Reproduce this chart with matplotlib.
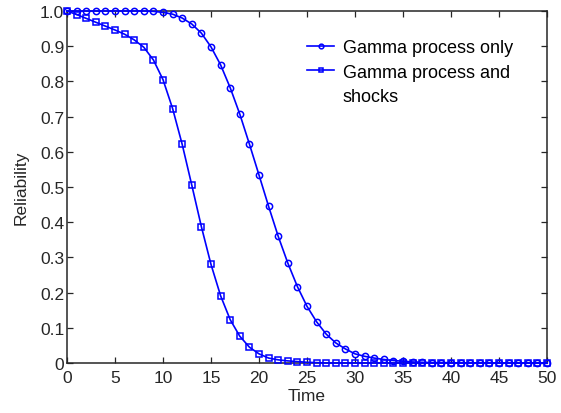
import numpy as np
import matplotlib
matplotlib.use("Agg")
import matplotlib.pyplot as plt
from matplotlib.lines import Line2D

plt.rcParams['font.family'] = ['Liberation Sans', 'DejaVu Sans']

time = np.arange(0, 51)

# reliability, gamma process only
gamma_only = [1.0, 1.0, 1.0, 1.0, 1.0, 1.0, 1.0, 1.0, 1.0, 0.999,
              0.996, 0.991, 0.980, 0.963, 0.937, 0.898, 0.847, 0.782, 0.707, 0.622,
              0.534, 0.445, 0.360, 0.284, 0.217, 0.161, 0.117, 0.082, 0.057, 0.040,
              0.026, 0.019, 0.014, 0.010, 0.007, 0.005, 0.003, 0.002, 0.001, 0.001,
              0.001, 0.0, 0.0, 0.0, 0.0, 0.0, 0.0, 0.0, 0.0, 0.0, 0.0]

# reliability, gamma process and shocks
gamma_shocks = [1.0, 0.990, 0.979, 0.968, 0.957, 0.946, 0.934, 0.918, 0.897, 0.861,
                0.805, 0.723, 0.621, 0.505, 0.387, 0.280, 0.191, 0.123, 0.076, 0.045,
                0.026, 0.014, 0.009, 0.006, 0.004, 0.002, 0.001, 0.0, 0.0, 0.0,
                0.0, 0.0, 0.0, 0.0, 0.0, 0.0, 0.0, 0.0, 0.0, 0.0,
                0.0, 0.0, 0.0, 0.0, 0.0, 0.0, 0.0, 0.0, 0.0, 0.0, 0.0]

dark = '#262626'
blue = '#0000ff'

fig = plt.figure(figsize=(5.61, 4.14), dpi=100)
ax = fig.add_axes([67 / 561, 1 - 364 / 414, 480 / 561, 352 / 414])

l1, = ax.plot(time, gamma_only, '-o', color=blue, lw=1.2, ms=4.5, mfc='none', mew=1.1,
              clip_on=False, zorder=3)
l2, = ax.plot(time, gamma_shocks, '-s', color=blue, lw=1.2, ms=3.8, mfc='none', mew=1.1,
              clip_on=False, zorder=3)

ax.set_xlim(0, 50)
ax.set_ylim(0, 1)
ax.set_xticks(np.arange(0, 51, 5))
ax.set_yticks(np.arange(0, 1.01, 0.1))
ax.set_yticklabels(['0'] + ['%.1f' % v for v in np.arange(0.1, 1.01, 0.1)])
ax.tick_params(direction='in', top=True, right=True, length=4, width=0.9,
               colors=dark, labelsize=12.5)
ax.tick_params(axis='x', pad=5)
ax.tick_params(axis='y', pad=2)
for s in ax.spines.values():
    s.set_color(dark)
    s.set_linewidth(1.1)

ax.set_xlabel('Time', fontsize=12.5, color=dark, labelpad=2)
ax.set_ylabel('Reliability', fontsize=12.5, color=dark, labelpad=8)

# second label wraps onto a row with no handle
blank = Line2D([], [], linestyle='none')
ax.legend([l1, l2, blank], ['Gamma process only', 'Gamma process and', 'shocks'],
          loc='upper left', bbox_to_anchor=(0.467, 0.966), frameon=False,
          fontsize=13, handlelength=1.45, handletextpad=0.5,
          labelspacing=0.42, markerscale=0.75)

fig.savefig('out.png', dpi=100)
